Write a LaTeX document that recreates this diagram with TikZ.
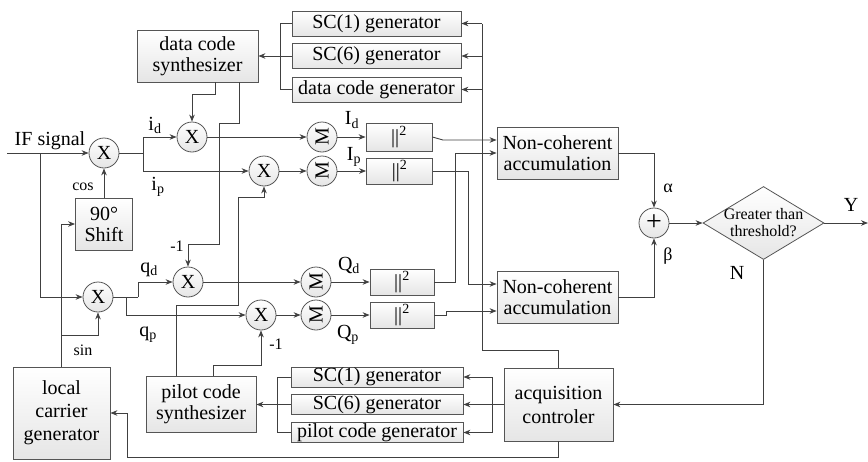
\documentclass[tikz,border=0pt]{standalone}
\usepackage{fontspec}
\usepackage{graphicx}
\setmainfont{Liberation Serif}
\usetikzlibrary{arrows.meta,shapes.geometric}
\definecolor{wirec}{HTML}{404040}
\definecolor{bordc}{HTML}{555555}
\begin{document}
\begin{tikzpicture}[x=1pt,y=-1pt,font=\fontsize{20}{22}\selectfont,
  box/.style={draw=bordc,line width=0.8pt,top color=white,bottom color=gray!20,inner sep=0pt,align=center},
  circ/.style={circle,draw=bordc,line width=0.8pt,top color=white,bottom color=gray!20,minimum size=30pt,inner sep=0pt},
  wire/.style={draw=wirec,line width=0.9pt},
  arr/.style={draw=wirec,line width=0.9pt,-{Stealth[length=7pt,width=5.5pt]}},
  lbl/.style={inner sep=0pt},
  small/.style={font=\fontsize{16}{18}\selectfont}]
\useasboundingbox (0,0) rectangle (868,461);
% ---- boxes ----
\node[box,minimum width=121pt,minimum height=52pt] (syndata) at (197.5,56) {data code\\[-1pt]synthesizer};
\node[box,minimum width=169pt,minimum height=25pt] (gen1) at (376.5,23.5) {SC(1) generator};
\node[box,minimum width=169pt,minimum height=25pt] (gen6) at (376.5,56) {SC(6) generator};
\node[box,minimum width=169pt,minimum height=25pt] (gendc) at (376.5,89.5) {data code generator};
\node[box,minimum width=121pt,minimum height=52pt] (nca1) at (557.5,153) {Non-coherent\\[-1pt]accumulation};
\node[box,minimum width=121pt,minimum height=52pt] (nca2) at (557.5,297) {Non-coherent\\[-1pt]accumulation};
\node[circ,font=\fontsize{28}{28}\selectfont] (sum) at (654,223) {+};
\node[diamond,draw=bordc,line width=0.8pt,top color=white,bottom color=gray!20,minimum width=121pt,minimum height=73pt,inner sep=0pt,
  label={[small,align=center,inner sep=0pt]center:Greater than\\[-1pt]threshold?}] (dec) at (763.5,223) {};
\node[box,minimum width=109pt,minimum height=73pt] (ctrl) at (558.5,404.5) {acquisition\\[2pt]controler};
\node[box,minimum width=172pt,minimum height=20pt] (pgen1) at (377,377) {SC(1) generator};
\node[box,minimum width=172pt,minimum height=20pt] (pgen6) at (377,404.5) {SC(6) generator};
\node[box,minimum width=172pt,minimum height=20pt] (pgenpc) at (377,432.5) {pilot code generator};
\node[box,minimum width=110pt,minimum height=56pt] (synpilot) at (201,404.5) {pilot code\\[-1pt]synthesizer};
\node[box,minimum width=97pt,minimum height=92pt] (carrier) at (61.5,413) {local\\[1pt]carrier\\[1pt]generator};
\node[box,minimum width=57pt,minimum height=52pt] (shift) at (104,224) {90°\\[-1pt]Shift};
% ---- circles ----
\node[circ] (X1) at (104,153) {X};
\node[circ] (X2) at (98,297) {X};
\node[circ] (X3) at (192,137) {X};
\node[circ] (X4) at (264,171) {X};
\node[circ] (X5) at (188,282) {X};
\node[circ] (X6) at (261,315) {X};
\node[circ] (Md) at (322,137) {\rotatebox{90}{M}};
\node[circ] (Mp) at (322,171) {\rotatebox{90}{M}};
\node[circ] (Mqd) at (316,282) {\rotatebox{90}{M}};
\node[circ] (Mqp) at (316,315) {\rotatebox{90}{M}};
\node[box,minimum width=66pt,minimum height=28pt] (sId) at (399,137) {||\textsuperscript{2}};
\node[box,minimum width=66pt,minimum height=26pt] (sIp) at (399.5,171) {||\textsuperscript{2}};
\node[box,minimum width=64pt,minimum height=26pt] (sQd) at (402,282) {||\textsuperscript{2}};
\node[box,minimum width=64pt,minimum height=26pt] (sQp) at (402,315) {||\textsuperscript{2}};
% ---- labels ----
\node[lbl] (tIF) at (50,141) {IF signal};
\node[lbl,small] (tcos) at (83,187) {cos};
\node[lbl,small] (tsin) at (83,350) {sin};
\node[lbl] (tid) at (155,125) {i\textsubscript{d}};
\node[lbl] (tip) at (158,187) {i\textsubscript{p}};
\node[lbl] (tqd) at (149,270) {q\textsubscript{d}};
\node[lbl] (tqp) at (148,335) {q\textsubscript{p}};
\node[lbl] (tId) at (352,120) {I\textsubscript{d}};
\node[lbl] (tIp) at (354,157) {I\textsubscript{p}};
\node[lbl] (tQd) at (349,265) {Q\textsubscript{d}};
\node[lbl] (tQp) at (348,335) {Q\textsubscript{p}};
\node[lbl,small] (tm1a) at (177,246) {-1};
\node[lbl,small] (tm1b) at (276,344) {-1};
\node[lbl,font=\fontsize{18}{20}\selectfont] (talpha) at (668,188) {α};
\node[lbl,font=\fontsize{18}{20}\selectfont] (tbeta) at (668,256) {β};
\node[lbl] (tY) at (851,205) {Y};
\node[lbl] (tN) at (737,273) {N};
% ---- coordinates ----
\coordinate (ifin) at (7,153);
\coordinate (ifbr) at (40,153);
\coordinate (s1) at (143,153);
\coordinate (s2a) at (138,297);
\coordinate (s2b) at (126,297);
\coordinate (yout) at (868,223);
% ---- front end ----
\draw[arr] (ifin) -- (X1.west);
\draw[arr] (ifbr) |- (X2.west);
\draw[arr] (shift.north) -- (X1.south);
\draw[arr] (carrier.north) |- (shift.west);
\draw[arr] (carrier.north |- 0,335) -| (X2.south);
\draw[wire] (X1.east) -- (s1);
\draw[arr] (s1) |- (X3.west);
\draw[arr] (s1) |- (X4.west);
\draw[wire] (X2.east) -- (s2a);
\draw[arr] (s2a) |- (X5.west);
\draw[arr] (s2b) |- (X6.west);
% code synthesizer inputs
\draw[arr] ([xshift=17.5pt]syndata.south) -- ++(0,12) -| (X3.north);
\draw[arr] ([xshift=41.5pt]syndata.south) -- (239,123) -- (219,123) -- (219,244) -| (X5.north);
\draw[arr] ([xshift=-25pt]synpilot.north) -- (176,305) -- (238,305) -- (238,197) -| (X4.south);
\draw[arr] ([xshift=12pt]synpilot.north) -- (213,365) -| (X6.south);
% correlators
\draw[arr] (X3.east) -- (Md.west);
\draw[arr] (X4.east) -- (Mp.west);
\draw[arr] (X5.east) -- (Mqd.west);
\draw[arr] (X6.east) -- (Mqp.west);
\draw[arr] (Md.east) -- (sId.west);
\draw[arr] (Mp.east) -- (sIp.west);
\draw[arr] (Mqd.east) -- (sQd.west);
\draw[arr] (Mqp.east) -- (sQp.west);
% to accumulators
\draw[arr] (sId.east) -- (443,140) -- (nca1.west |- 0,140);
\draw[arr] (sQd.east) -- (455,282) |- (nca1.west);
\draw[arr] (sIp.east) -- (468,171) |- (nca2.west |- 0,284);
\draw[arr] (sQp.east) -- (446,315) -- (446,311) -- (nca2.west |- 0,311);
\draw[arr] (nca1.east) -| (sum.north);
\draw[arr] (nca2.east) -| (sum.south);
\draw[arr] (sum.east) -- (dec.west);
\draw[arr] (dec.east) -- (yout);
\draw[arr] (dec.south) |- (ctrl.east);
% controller buses
\draw[wire] (ctrl.north) |- (482,350) -- (482,23.5);
\draw[arr] (482,23.5) -- (gen1.east);
\draw[arr] (482,56) -- (gen6.east);
\draw[arr] (482,89.5) -- (gendc.east);
\draw[wire] (gen1.west) -- (280,23.5) -- (280,89.5) -- (gendc.west);
\draw[arr] (gen6.west) -- (syndata.east);
\draw[wire] (ctrl.west) -- (492,404.5);
\draw[wire] (492,377) -- (492,432.5);
\draw[arr] (492,377) -- (pgen1.east);
\draw[arr] (492,404.5) -- (pgen6.east);
\draw[arr] (492,432.5) -- (pgenpc.east);
\draw[wire] (pgen1.west) -- (277,377) -- (277,432.5) -- (pgenpc.west);
\draw[arr] (pgen6.west) -- (synpilot.east);
\draw[arr] (ctrl.south) -- (558.5,457) -| (127,413) -- (carrier.east);
\end{tikzpicture}
\end{document}
